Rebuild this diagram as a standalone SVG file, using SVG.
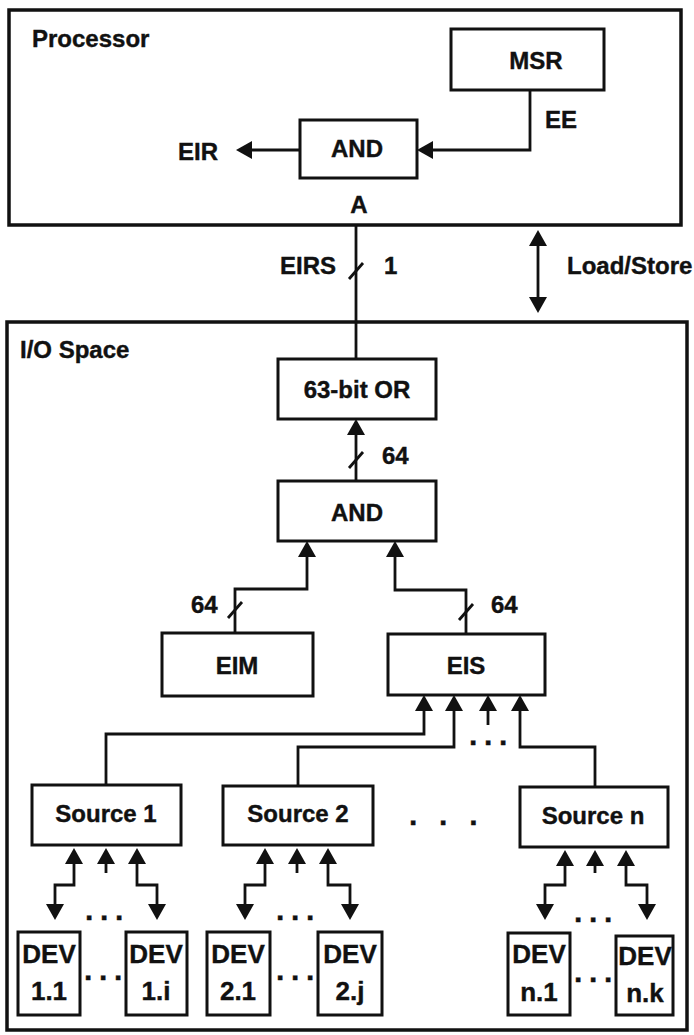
<svg xmlns="http://www.w3.org/2000/svg" width="694" height="1035" viewBox="0 0 694 1035">
<style>
.box{fill:#fff;stroke:#111;stroke-width:3}
.frame{fill:none;stroke:#111;stroke-width:3.5}
.ln{fill:none;stroke:#111;stroke-width:2.8}
.t{font-family:"Liberation Sans",Arial,sans-serif;font-weight:bold;font-size:24px;fill:#111;stroke:#111;stroke-width:0.4}
.c{text-anchor:middle}
.dev{font-size:26px}
.dots{font-size:30px;letter-spacing:6.7px}
</style>
<defs>
<marker id="ah" viewBox="0 0 16 18" refX="12" refY="9" markerWidth="16" markerHeight="18" markerUnits="userSpaceOnUse" orient="auto-start-reverse">
<path d="M0,0 L16,9 L0,18 z" fill="#111"/>
</marker>
</defs>
<rect width="694" height="1035" fill="#fff"/>

<g id="processor">
<rect class="frame" x="9" y="10" width="672" height="215"/>
<text class="t" x="32" y="47">Processor</text>
</g>
<g id="msr">
<rect class="box" x="451" y="29" width="153" height="61"/>
<text class="t c" x="536" y="69">MSR</text>
</g>
<g id="and1">
<rect class="box" x="300" y="120" width="117" height="58"/>
<text class="t c" x="357" y="157">AND</text>
</g>
<g id="eir"><text class="t" x="178" y="160">EIR</text></g>

<g id="iospace">
<rect class="frame" x="7" y="322" width="680" height="708"/>
<text class="t" x="20" y="358">I/O Space</text>
</g>
<g id="or63">
<rect class="box" x="278" y="359" width="158" height="60"/>
<text class="t c" x="357" y="398">63-bit OR</text>
</g>
<g id="and2">
<rect class="box" x="278" y="481" width="158" height="60"/>
<text class="t c" x="357" y="521">AND</text>
</g>
<g id="eim">
<rect class="box" x="162" y="633" width="151" height="63"/>
<text class="t c" x="237" y="674">EIM</text>
</g>
<g id="eis">
<rect class="box" x="388" y="634" width="157" height="61"/>
<text class="t c" x="466" y="674">EIS</text>
</g>
<g id="source1">
<rect class="box" x="32" y="785" width="149" height="60"/>
<text class="t c" x="106" y="822">Source 1</text>
</g>
<g id="source2">
<rect class="box" x="223" y="786" width="150" height="59"/>
<text class="t c" x="298" y="822">Source 2</text>
</g>
<g id="sourcen">
<rect class="box" x="520" y="787" width="148" height="60"/>
<text class="t c" x="593" y="824">Source n</text>
</g>
<g id="dev11">
<rect class="box" x="18" y="932" width="62" height="83"/>
<text class="t c dev" x="49" y="963">DEV</text><text class="t c dev" x="49" y="1000">1.1</text>
</g>
<g id="dev1i">
<rect class="box" x="126" y="932" width="61" height="83"/>
<text class="t c dev" x="156" y="963">DEV</text><text class="t c dev" x="156" y="1000">1.i</text>
</g>
<g id="dev21">
<rect class="box" x="207" y="932" width="63" height="83"/>
<text class="t c dev" x="238" y="963">DEV</text><text class="t c dev" x="238" y="1000">2.1</text>
</g>
<g id="dev2j">
<rect class="box" x="318" y="932" width="64" height="83"/>
<text class="t c dev" x="350" y="963">DEV</text><text class="t c dev" x="350" y="1000">2.j</text>
</g>
<g id="devn1">
<rect class="box" x="508" y="933" width="62" height="82"/>
<text class="t c dev" x="539" y="963">DEV</text><text class="t c dev" x="539" y="1001">n.1</text>
</g>
<g id="devnk">
<rect class="box" x="616" y="936" width="57" height="79"/>
<text class="t c dev" x="645" y="965">DEV</text><text class="t c dev" x="645" y="1002">n.k</text>
</g>

<g id="connectors">
<path class="ln" d="M530,90 V150 H421" marker-end="url(#ah)"/>
<path class="ln" d="M300,150 H240" marker-end="url(#ah)"/>
<path class="ln" d="M356,224 V359"/>
<path class="ln" d="M349,279 L363,263"/>
<path class="ln" d="M538,234 V309" marker-start="url(#ah)" marker-end="url(#ah)"/>
<path class="ln" d="M356,481 V423" marker-end="url(#ah)"/>
<path class="ln" d="M349,468 L363,452"/>
<path class="ln" d="M235,633 V589 H307 V545" marker-end="url(#ah)"/>
<path class="ln" d="M228,618 L242,602"/>
<path class="ln" d="M466,634 V590 H395 V545" marker-end="url(#ah)"/>
<path class="ln" d="M459,620 L473,604"/>
<path class="ln" d="M106,785 V734 H424 V699" marker-end="url(#ah)"/>
<path class="ln" d="M298,786 V747 H454 V699" marker-end="url(#ah)"/>
<path class="ln" d="M488,725 V699" marker-end="url(#ah)"/>
<path class="ln" d="M595,787 V747 H520 V699" marker-end="url(#ah)"/>
<path class="ln" d="M74,852 V885 H55 V916" marker-start="url(#ah)" marker-end="url(#ah)"/>
<path class="ln" d="M106,873 V852" marker-end="url(#ah)"/>
<path class="ln" d="M137,852 V885 H157 V916" marker-start="url(#ah)" marker-end="url(#ah)"/>
<path class="ln" d="M265,852 V885 H245 V916" marker-start="url(#ah)" marker-end="url(#ah)"/>
<path class="ln" d="M297,873 V852" marker-end="url(#ah)"/>
<path class="ln" d="M328,852 V885 H350 V916" marker-start="url(#ah)" marker-end="url(#ah)"/>
<path class="ln" d="M565,854 V885 H545 V916" marker-start="url(#ah)" marker-end="url(#ah)"/>
<path class="ln" d="M595,873 V854" marker-end="url(#ah)"/>
<path class="ln" d="M626,854 V885 H647 V916" marker-start="url(#ah)" marker-end="url(#ah)"/>
</g>

<g id="labels">
<text class="t" x="545" y="128">EE</text>
<text class="t c" x="359" y="213">A</text>
<text class="t" x="280" y="274">EIRS</text>
<text class="t" x="384" y="274">1</text>
<text class="t" x="567" y="274">Load/Store</text>
<text class="t" x="382" y="464">64</text>
<text class="t" x="191" y="613">64</text>
<text class="t" x="491" y="613">64</text>
<text class="t dots" x="469" y="745">...</text>
<text class="t dots" x="409" y="825">. . .</text>
<text class="t dots" x="85" y="920">...</text>
<text class="t dots" x="276" y="920">...</text>
<text class="t dots" x="574" y="922">...</text>
<text class="t dots" x="84" y="980">...</text>
<text class="t dots" x="276" y="980">...</text>
<text class="t dots" x="574" y="982">...</text>
</g>
</svg>
